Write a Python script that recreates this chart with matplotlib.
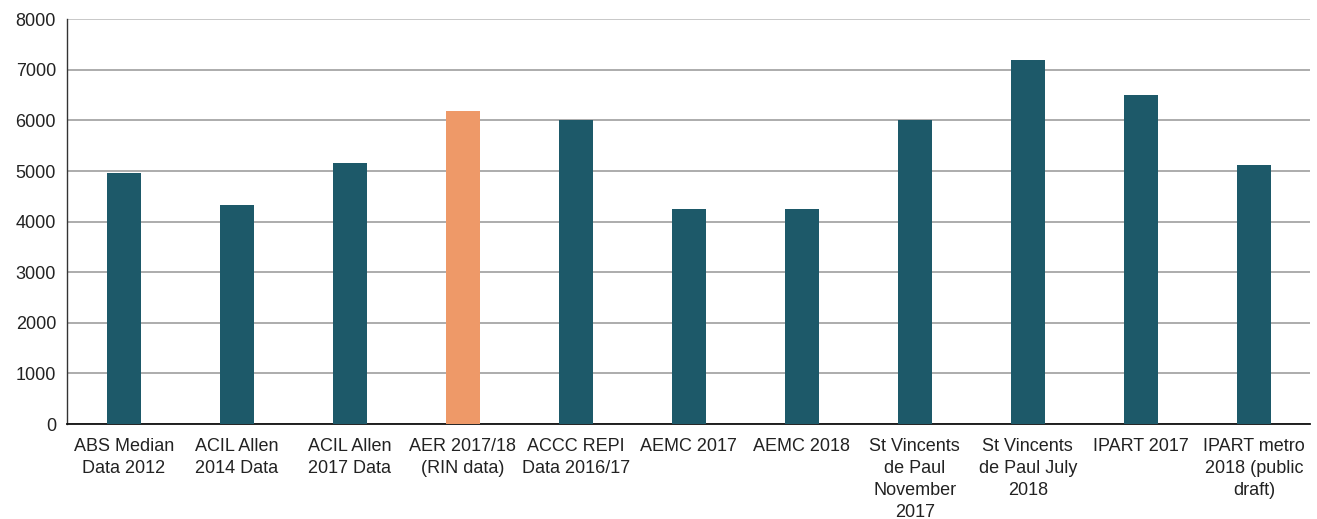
import matplotlib.pyplot as plt
import numpy as np

plt.rcParams['font.family'] = ['Liberation Sans', 'DejaVu Sans']

categories = ['ABS Median\nData 2012', 'ACIL Allen\n2014 Data', 'ACIL Allen\n2017 Data',
              'AER 2017/18\n(RIN data)', 'ACCC REPI\nData 2016/17', 'AEMC 2017', 'AEMC 2018',
              'St Vincents\nde Paul\nNovember\n2017', 'St Vincents\nde Paul July\n2018',
              'IPART 2017', 'IPART metro\n2018 (public\ndraft)']
values = [4970, 4320, 5160, 6185, 6000, 4240, 4240, 6000, 7195, 6500, 5125]
highlight = 3          # AER bar in orange
yticks = [0, 1000, 2000, 3000, 4000, 5000, 6000, 7000, 8000]

teal = '#1d5969'
orange = '#ee9968'
colors = [orange if i == highlight else teal for i in range(len(values))]

fig = plt.figure(figsize=(13.17, 5.19), dpi=100)
ax = fig.add_axes([0.051, 0.183, 0.944, 0.780])

x = np.arange(len(values))
ax.bar(x, values, width=0.3, color=colors, zorder=3)

ax.set_xlim(-0.5, len(values) - 0.5)
ax.set_ylim(0, 8000)
ax.set_yticks(yticks)
ax.set_yticklabels([str(v) for v in yticks])
ax.set_xticks(x)
ax.set_xticklabels(categories, linespacing=1.38)

ax.grid(axis='y', color='#a6a6a6', linewidth=1.3, zorder=0)
ax.get_ygridlines()[-1].set_color('#c4c4c4')
ax.tick_params(axis='both', length=0, labelsize=13, colors='#222222')
ax.tick_params(axis='x', pad=10)
ax.tick_params(axis='y', pad=8)

for side in ['top', 'right']:
    ax.spines[side].set_visible(False)
ax.spines['left'].set_color('#333333')
ax.spines['bottom'].set_color('#111111')
ax.spines['bottom'].set_linewidth(1.3)
ax.spines['left'].set_linewidth(1.0)

fig.savefig('out.png', dpi=100)
